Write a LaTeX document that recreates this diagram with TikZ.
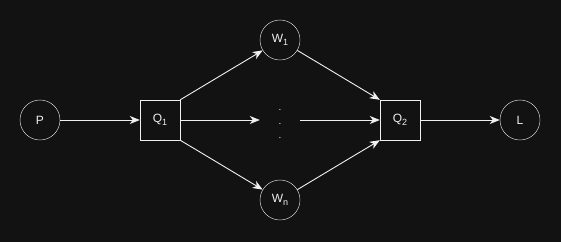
\documentclass[tikz,border=0pt]{standalone}
\usepackage{fontspec}
\setmainfont{Liberation Sans}
\definecolor{Canvas}{RGB}{18, 18, 18}
\definecolor{Ink}{RGB}{240, 240, 240}
\usetikzlibrary{arrows.meta, positioning}
\newcommand{\idx}[1]{\raisebox{-0.4ex}{\fontsize{9}{9}\selectfont #1}}

\begin{document}
\begin{tikzpicture}[x=1pt, y=-1pt,
    every node/.style={font=\fontsize{12}{14}\selectfont, text=Ink, align=center},
    station/.style={draw=Ink, circle, minimum size=40pt, inner sep=0pt},
    buffer/.style={draw=Ink, rectangle, minimum size=40pt, inner sep=0pt},
    flow/.style={draw=Ink, line width=0.9pt, -{Stealth[length=10pt, width=8pt, inset=3pt]}}
]
% Fond
\fill[Canvas] (0,0) rectangle (561,242);
\useasboundingbox (0,0) rectangle (561,242);
% Noduri
\node[station] (P) at (40,120) {P};
\node[buffer] (Q1) at (160,120) {Q\idx{1}};
\node[station] (W1) at (280,40) {W\idx{1}};
\node[station] (Wn) at (280,200) {W\idx{n}};
\node[minimum width=40pt, inner sep=0pt, font=\fontsize{10}{14}\selectfont] (dots) at (280,124) {.\\.\\.};
\node[buffer] (Q2) at (400,120) {Q\idx{2}};
\node[station] (L) at (520,120) {L};
% Conexiuni
\draw[flow] (P) -- (Q1);
\draw[flow] (Q1.north east) -- (W1);
\draw[flow] (Q1.south east) -- (Wn);
\draw[flow] (Q1.east) -- (dots.west |- Q1.east);
\draw[flow] (dots.east |- Q2.west) -- (Q2.west);
\draw[flow] (W1) -- (Q2.north west);
\draw[flow] (Wn) -- (Q2.south west);
\draw[flow] (Q2) -- (L);
\end{tikzpicture}
\end{document}
